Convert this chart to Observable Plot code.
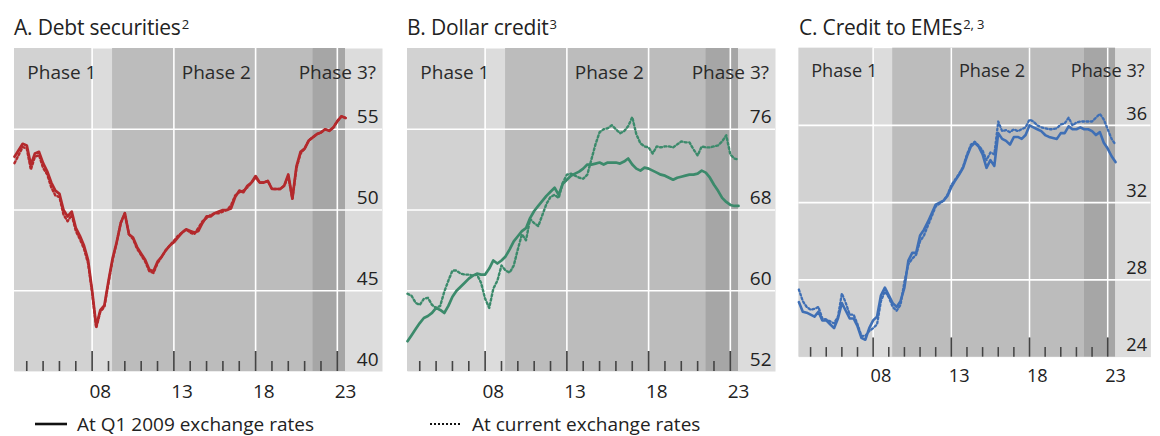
<!DOCTYPE html>
<html><head><meta charset="utf-8">
<script src="https://cdn.jsdelivr.net/npm/d3@7"></script>
<script src="https://cdn.jsdelivr.net/npm/@observablehq/plot@0.6"></script>
<style>
html,body{margin:0;padding:0;background:#fff;overflow:hidden;}
body{font-family:"Open Sans",sans-serif;color:#222;}
#root{position:relative;width:1160px;height:436px;overflow:hidden;}
.title{position:absolute;top:13px;font-size:21px;line-height:28px;white-space:nowrap;letter-spacing:-0.2px;}
.title sup{font-size:13px;vertical-align:top;position:relative;top:-3px;margin-left:1px;}
.panel{position:absolute;top:40px;}
.legend{position:absolute;top:414px;height:20px;font-size:19px;line-height:20px;white-space:nowrap;display:flex;align-items:center;}
.legend svg{margin-right:8px;}
</style>
</head><body>
<div id="root"></div>
<script>
// ---- data ----
const startQuarter = 2003.25; // Q1 2003 (quarter-end position)
const nQuarters = 82;          // Q1 2003 .. Q2 2023
const quarters = d3.range(nQuarters).map(i => startQuarter + i * 0.25);

const debtSolid = [53.3,53.7,54.1,54.0,52.8,53.5,53.6,52.9,52.4,51.7,
  51.2,51.0,50.0,49.6,49.9,48.9,48.4,47.8,46.9,45.0,
  42.8,43.8,44.1,45.6,47.0,48.0,49.2,49.8,48.5,48.3,
  47.7,47.3,46.9,46.3,46.2,46.8,47.1,47.5,47.8,48.0,
  48.3,48.6,48.8,48.7,48.6,48.7,49.2,49.6,49.6,49.8,
  49.9,50.0,50.0,50.1,50.8,51.2,51.1,51.5,51.7,52.1,
  51.7,51.7,51.8,51.3,51.3,51.3,51.5,52.2,50.7,52.7,
  53.6,53.8,54.3,54.5,54.7,54.8,55.0,54.9,55.1,55.5,
  55.8,55.7];
const debtDotted = [52.9,53.4,53.9,53.8,52.5,53.3,53.4,52.6,52.2,51.4,
  50.9,50.8,49.7,49.3,49.7,48.7,48.2,47.6,46.7,44.9,
  42.7,43.7,44.0,45.5,46.9,48.0,49.2,49.8,48.5,48.2,
  47.6,47.2,46.8,46.2,46.1,46.7,47.1,47.5,47.8,48.1,
  48.4,48.6,48.8,48.6,48.5,48.9,49.3,49.5,49.7,49.8,
  49.8,49.9,50.0,50.3,50.9,51.1,51.2,51.4,51.7,52.0,
  51.7,51.7,51.8,51.3,51.3,51.3,51.5,52.1,50.7,52.6,
  53.5,53.8,54.3,54.5,54.7,54.8,55.0,54.9,55.1,55.5,
  55.8,55.7];
const dollarSolid = [55.0,55.6,56.2,56.8,57.3,57.5,57.8,58.3,58.1,57.8,
  58.5,59.4,60.0,60.4,60.8,61.2,61.5,61.7,61.6,61.6,
  62.2,63.0,62.7,63.0,63.4,64.1,64.9,65.4,65.9,66.2,
  67.2,67.9,68.4,68.9,69.4,69.8,70.2,69.5,70.6,71.0,
  71.4,71.6,71.8,72.1,72.5,72.5,72.6,72.7,72.5,72.7,
  72.7,72.7,72.6,72.8,73.1,72.5,72.1,71.9,72.2,72.1,
  71.9,71.7,71.5,71.4,71.2,71.0,71.2,71.3,71.4,71.5,
  71.5,71.6,71.9,71.7,71.2,70.5,69.9,69.2,68.8,68.5,
  68.4,68.4];
const dollarDotted = [59.7,59.5,58.8,58.6,59.2,59.3,58.6,58.3,58.5,59.9,
  61.0,62.0,62.0,61.7,61.6,61.6,61.5,61.6,60.8,59.2,
  58.3,60.2,61.0,62.5,62.0,61.8,62.5,64.1,65.6,65.0,
  67.1,66.7,66.4,67.5,68.6,69.3,69.5,69.2,70.7,71.5,
  71.6,71.4,71.2,71.1,71.5,73.0,74.5,75.7,76.0,76.1,
  76.4,76.0,75.6,75.8,76.3,77.2,75.5,74.6,74.3,74.2,
  73.6,74.3,74.2,74.3,74.3,74.2,74.5,74.8,74.7,74.7,
  74.0,73.4,74.3,74.2,74.2,74.3,74.4,74.8,75.4,73.5,
  73.1,73.0];
const emeSolid = [26.85,26.35,26.3,26.2,26.1,26.35,25.9,25.9,25.7,25.5,
  26.0,26.8,26.4,26.0,26.0,25.6,25.0,24.9,25.5,25.9,
  26.1,27.2,27.6,27.2,26.8,26.6,26.9,27.6,29.0,29.4,
  29.4,30.3,30.6,31.0,31.45,31.9,32.0,32.1,32.35,32.8,
  33.15,33.45,33.8,34.4,34.9,35.1,34.9,34.5,33.8,34.2,
  33.9,35.6,35.3,35.2,35.0,35.4,35.4,35.3,35.5,36.0,
  35.9,35.8,35.7,35.5,35.4,35.35,35.3,35.6,35.6,35.95,
  35.8,35.8,35.9,35.8,35.8,35.7,35.5,35.65,35.1,34.8,
  34.4,34.1];
const emeDotted = [27.5,26.9,26.6,26.45,26.5,26.6,26.0,25.95,25.85,25.75,
  26.1,27.3,26.8,26.2,26.2,25.7,25.1,25.1,25.35,25.5,
  25.7,26.9,27.4,27.1,26.6,26.4,26.7,27.9,28.8,29.1,
  29.3,30.0,30.3,30.8,31.3,31.8,31.95,32.1,32.4,32.9,
  33.2,33.5,33.85,34.5,35.0,35.15,34.95,34.7,34.2,34.6,
  34.5,36.2,35.7,35.75,35.65,35.8,35.7,35.8,35.9,36.3,
  36.2,36.0,35.9,35.85,35.8,35.8,35.85,36.05,36.1,36.4,
  36.0,36.15,36.2,36.2,36.2,36.2,36.4,36.6,36.3,35.8,
  35.3,35.0];

const majorYears = [2008, 2013, 2018, 2023];
const minorYears = [2004,2005,2006,2007,2009,2010,2011,2012,2014,2015,2016,2017,2019,2020,2021,2022];
const phases = [
  {name: "Phase 1", x1: 2003.25, x2: 2008.0, fill: "#d2d2d2"},
  {name: "Phase 2", x1: 2009.25, x2: 2021.5, fill: "#bcbcbc"},
  {name: "Phase 3?", x1: 2021.5, x2: 2023.5, fill: "#a6a6a6"}
];
const phaseLabelX = [2006.15, 2015.6, 2023.0];

const panels = [
  {title: "A. Debt securities", sup: "2", solid: debtSolid, dotted: debtDotted,
   yDomain: [40, 60], yTicks: [40, 45, 50, 55], color: "#b3292c"},
  {title: "B. Dollar credit", sup: "3", solid: dollarSolid, dotted: dollarDotted,
   yDomain: [52, 84], yTicks: [52, 60, 68, 76], color: "#3b8a6b"},
  {title: "C. Credit to EMEs", sup: "2, 3", solid: emeSolid, dotted: emeDotted,
   yDomain: [24, 40], yTicks: [24, 28, 32, 36], color: "#3f6fb5"}
];
const legendItems = [
  {label: "At Q1 2009 exchange rates", dash: null},
  {label: "At current exchange rates", dash: "2,2"}
];

// ---- layout ----
const root = document.getElementById("root");
const panelW = 392, panelH = 370, mL = 14, mR = 10, mT = 8, mB = 39;
const innerH = panelH - mT - mB;
const offsets = [0, 393, 785];

panels.forEach((p, k) => {
  const t = document.createElement("div");
  t.className = "title";
  t.style.left = (offsets[k] + mL) + "px";
  t.innerHTML = p.title + "<sup>" + p.sup + "</sup>";
  root.appendChild(t);

  const solid = quarters.map((q, i) => ({t: q, v: p.solid[i]}));
  const dotted = quarters.map((q, i) => ({t: q, v: p.dotted[i]}));
  const gridVals = p.yTicks.slice(1);

  const chart = Plot.plot({
    width: panelW, height: panelH,
    marginLeft: mL, marginRight: mR, marginTop: mT, marginBottom: mB,
    style: {fontFamily: "Open Sans, sans-serif", fontSize: "18px", color: "#222", background: "transparent", overflow: "visible"},
    x: {domain: [2003.25, 2023.5], range: [mL, mL + 331]},
    y: {domain: p.yDomain},
    marks: [
      Plot.frame({fill: "#dcdcdc", stroke: null}),
      Plot.rectX(phases, {x1: "x1", x2: "x2", fill: "fill"}),
      Plot.ruleY(gridVals, {stroke: "white", strokeWidth: 1.6}),
      Plot.ruleX(majorYears, {stroke: "white", strokeWidth: 1.6, insetBottom: 20}),
      Plot.ruleX(minorYears, {stroke: "#444", strokeWidth: 1.6, insetTop: innerH - 10}),
      Plot.ruleX(majorYears, {stroke: "#444", strokeWidth: 1.6, insetTop: innerH - 20}),
      Plot.text(phases, {x: (d, i) => phaseLabelX[i], text: "name", frameAnchor: "top", dy: 17, fontSize: 19, fill: "#2a2a2a"}),
      Plot.axisY(p.yTicks, {anchor: "right", tickSize: 0, tickPadding: 0, textAnchor: "end", dx: -4, dy: -12, fontSize: 19, fill: "#222", label: null}),
      Plot.axisX(majorYears.map(y => y + 0.5), {tickSize: 0, tickPadding: 13, fontSize: 19, fill: "#222", label: null,
        tickFormat: d => String(Math.floor(d)).slice(2)}),
      Plot.line(dotted, {x: "t", y: "v", stroke: p.color, strokeWidth: 2.4, strokeDasharray: "2,2.5"}),
      Plot.line(solid, {x: "t", y: "v", stroke: p.color, strokeWidth: 2.7})
    ]
  });
  const wrap = document.createElement("div");
  wrap.className = "panel";
  wrap.style.left = offsets[k] + "px";
  wrap.appendChild(chart);
  root.appendChild(wrap);
});

const legendX = [35, 430];
legendItems.forEach((it, i) => {
  const d = document.createElement("div");
  d.className = "legend";
  d.style.left = legendX[i] + "px";
  const dash = it.dash ? ` stroke-dasharray="${it.dash}"` : "";
  const sw = it.dash ? 2 : 2.6;
  d.innerHTML = `<svg width="34" height="10"><line x1="0" x2="32" y1="5" y2="5" stroke="#111" stroke-width="${sw}"${dash}/></svg><span>${it.label}</span>`;
  root.appendChild(d);
});
</script>
</body></html>
